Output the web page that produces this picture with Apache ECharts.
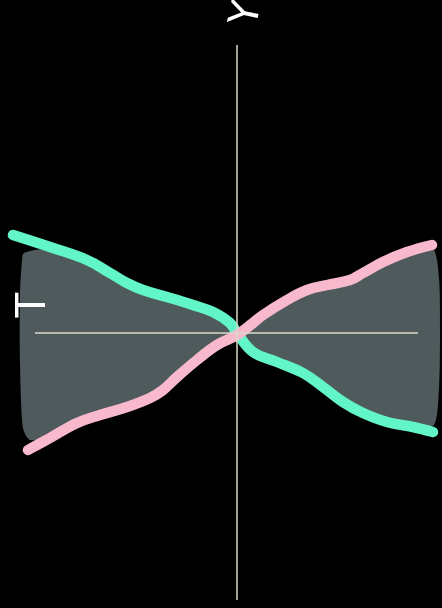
<!DOCTYPE html>
<html>
<head>
<meta charset="utf-8">
<title>T / Y</title>
<script src="https://cdn.jsdelivr.net/npm/echarts@6/dist/echarts.min.js"></script>
<style>
  html, body { margin: 0; padding: 0; background: #000; }
  #chart { width: 442px; height: 608px; }
</style>
</head>
<body>
<div id="chart"></div>
<script>
// Rising (pink) and falling (teal) curves crossing at the origin
const tealT = [-2.24, -1.87, -1.50, -1.27, -1.10, -0.94, -0.70, -0.44, -0.24, -0.07, 0.00, 0.16, 0.40, 0.66, 0.86, 1.06, 1.26, 1.50, 1.76, 1.96];
const tealY = [0.98, 0.86, 0.73, 0.60, 0.50, 0.43, 0.36, 0.28, 0.21, 0.10, 0.00, -0.19, -0.29, -0.40, -0.54, -0.69, -0.80, -0.89, -0.94, -0.99];

const pinkT = [-2.09, -1.87, -1.60, -1.37, -1.10, -0.87, -0.74, -0.60, -0.40, -0.20, 0.00, 0.16, 0.26, 0.50, 0.70, 0.90, 1.13, 1.26, 1.46, 1.70, 1.95];
const pinkY = [-1.17, -1.05, -0.90, -0.82, -0.74, -0.65, -0.57, -0.44, -0.27, -0.12, -0.02, 0.10, 0.18, 0.33, 0.43, 0.48, 0.53, 0.60, 0.71, 0.81, 0.88];

// Outline of the shaded spread between the two curves (clockwise)
const bandT = [-2.13, -1.87, -1.50, -1.27, -1.10, -0.85, -0.70, -0.44, -0.24, -0.07, 0.00,
               0.16, 0.26, 0.50, 0.70, 0.90, 1.13, 1.26, 1.46, 1.70, 1.96,
               2.02, 2.03, 2.02, 1.97,
               1.76, 1.50, 1.26, 1.06, 0.86, 0.66, 0.40, 0.16, 0.00,
               -0.20, -0.40, -0.60, -0.74, -0.87, -1.10, -1.37, -1.60, -1.87, -2.07,
               -2.14, -2.17, -2.17, -2.15];
const bandY = [0.80, 0.84, 0.71, 0.58, 0.49, 0.44, 0.35, 0.27, 0.20, 0.09, 0.00,
               0.10, 0.17, 0.32, 0.42, 0.47, 0.52, 0.59, 0.70, 0.80, 0.84,
               0.55, 0.00, -0.55, -0.92,
               -0.92, -0.87, -0.78, -0.67, -0.52, -0.38, -0.27, -0.17, 0.00,
               -0.12, -0.27, -0.44, -0.57, -0.65, -0.73, -0.81, -0.89, -1.04, -1.07,
               -0.95, -0.30, 0.40, 0.72];

// Extent of the drawn T and Y axis lines through the origin
const tAxisSpan = [-2.02, 1.81];
const yAxisSpan = [-2.67, 2.88];

const axisNames = { t: 'T', y: 'Y' };

const pairs = (xs, ys) => xs.map((x, i) => [x, ys[i]]);

const chart = echarts.init(document.getElementById('chart'), null, { renderer: 'canvas' });

const axisColor = '#dcd9c8';
const hidden = {
  axisLine: { show: false },
  axisTick: { show: false },
  axisLabel: { show: false },
  splitLine: { show: false }
};

chart.setOption({
  backgroundColor: '#000000',
  animation: false,
  grid: { left: 7, right: 0, top: 45, bottom: 8 },
  xAxis: Object.assign({ type: 'value', min: -2.30, max: 2.05 }, hidden),
  yAxis: Object.assign({ type: 'value', min: -2.67, max: 2.88 }, hidden),
  graphic: [
    {
      type: 'text', x: 248, y: 14, z: 20, rotation: 78 * Math.PI / 180,
      style: {
        text: axisNames.y, fill: '#ffffff',
        font: '40px "DejaVu Sans", sans-serif',
        align: 'center', verticalAlign: 'middle'
      }
    },
    {
      type: 'text', x: 35, y: 305, z: 20, rotation: Math.PI / 2,
      style: {
        text: axisNames.t, fill: '#ffffff',
        font: '40px "DejaVu Sans", sans-serif',
        align: 'center', verticalAlign: 'middle'
      }
    }
  ],
  series: [
    {
      type: 'custom',
      name: 'spread',
      coordinateSystem: 'cartesian2d',
      z: 1,
      data: pairs(bandT, bandY),
      renderItem: function (params, api) {
        if (params.dataIndex !== 0) return null;
        const pts = bandT.map((t, i) => api.coord([t, bandY[i]]));
        return {
          type: 'polygon',
          shape: { points: pts, smooth: 0.25 },
          style: { fill: '#4f5a5c' }
        };
      }
    },
    {
      type: 'line',
      name: 'falling',
      data: pairs(tealT, tealY),
      smooth: 0.4,
      symbol: 'none',
      z: 3,
      lineStyle: { color: '#62f5c8', width: 10.5, cap: 'round', join: 'round' }
    },
    {
      type: 'line',
      name: 'rising',
      data: pairs(pinkT, pinkY),
      smooth: 0.4,
      symbol: 'none',
      z: 3,
      lineStyle: { color: '#f9b9cd', width: 10.5, cap: 'round', join: 'round' }
    },
    {
      // T and Y axis lines through the origin, drawn above the curves
      type: 'line',
      name: 'axes',
      data: [],
      z: 6,
      silent: true,
      markLine: {
        silent: true,
        symbol: ['none', 'none'],
        label: { show: false },
        lineStyle: { color: axisColor, width: 1.5, type: 'solid' },
        emphasis: { disabled: true },
        data: [
          [{ coord: [tAxisSpan[0], 0] }, { coord: [tAxisSpan[1], 0] }],
          [{ coord: [0, yAxisSpan[0]] }, { coord: [0, yAxisSpan[1]] }]
        ]
      }
    }
  ]
});
</script>
</body>
</html>
